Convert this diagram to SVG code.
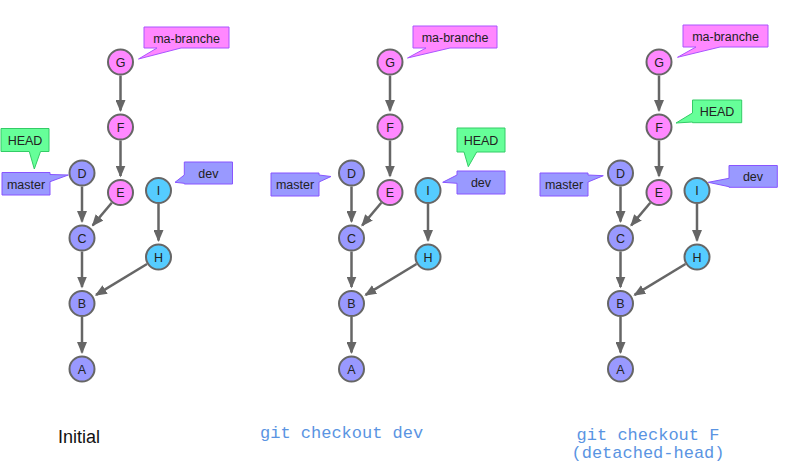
<svg xmlns="http://www.w3.org/2000/svg" width="786" height="470" viewBox="0 0 786 470">
<style>
.n circle{stroke:#666;stroke-width:2}
.blue circle{fill:#9999ff}
.pink circle{fill:#ff88ff}
.cyan circle{fill:#55ccff}
.n text{font-family:"Liberation Sans",Arial,sans-serif;font-size:12.5px;fill:#222;text-anchor:middle}
.e line{stroke:#666;stroke-width:2.5;marker-end:url(#arr)}
.c path{stroke-width:1}
.c text{font-family:"Liberation Sans",Arial,sans-serif;font-size:12.5px;fill:#222;text-anchor:middle}
.cg path{fill:#66ff99;stroke:#33cc66}
.cb path{fill:#9999ff;stroke:#8855ff}
.cp path{fill:#ff88ff;stroke:#aa55ff}
.cap{font-family:"Liberation Mono","Courier New",monospace;font-size:17px;fill:#5a94e2}
</style>
<defs>
<marker id="arr" markerUnits="userSpaceOnUse" markerWidth="12" markerHeight="10" viewBox="0 0 12 10" refX="10.5" refY="5" orient="auto">
<path d="M0,0 L12,5 L0,10 Z" fill="#666"/>
</marker>
</defs>

<g id="panel1">
<g id="p1-edges" class="e">
<line x1="120.5" y1="75.5" x2="120.5" y2="110.5"/>
<line x1="120.5" y1="140.5" x2="120.5" y2="176"/>
<line x1="82" y1="186.5" x2="82" y2="221.5"/>
<line x1="158.5" y1="204" x2="158.5" y2="240.5"/>
<line x1="82" y1="251.5" x2="82" y2="287"/>
<line x1="82" y1="317" x2="82" y2="352.5"/>
<line x1="111.8" y1="202.8" x2="92.7" y2="225.4"/>
<line x1="147" y1="264" x2="96.1" y2="294.9"/>
</g>
<g id="p1-A" class="n blue"><circle cx="82" cy="369" r="12.5"/><text x="82" y="373.5">A</text></g>
<g id="p1-B" class="n blue"><circle cx="82" cy="303.5" r="12.5"/><text x="82" y="308">B</text></g>
<g id="p1-C" class="n blue"><circle cx="82" cy="238" r="12.5"/><text x="82" y="242.5">C</text></g>
<g id="p1-D" class="n blue"><circle cx="82" cy="173" r="12.5"/><text x="82" y="177.5">D</text></g>
<g id="p1-E" class="n pink"><circle cx="120.5" cy="192.5" r="12.5"/><text x="120.5" y="197">E</text></g>
<g id="p1-F" class="n pink"><circle cx="120.5" cy="127" r="12.5"/><text x="120.5" y="131.5">F</text></g>
<g id="p1-G" class="n pink"><circle cx="120.5" cy="62" r="12.5"/><text x="120.5" y="66.5">G</text></g>
<g id="p1-H" class="n cyan"><circle cx="158.5" cy="257" r="12.5"/><text x="158.5" y="261.5">H</text></g>
<g id="p1-I" class="n cyan"><circle cx="158.5" cy="190.5" r="12.5"/><text x="158.5" y="195">I</text></g>
</g>

<g id="panel2" transform="translate(269.5,0)">
<g id="p2-edges" class="e">
<line x1="120.5" y1="75.5" x2="120.5" y2="110.5"/>
<line x1="120.5" y1="140.5" x2="120.5" y2="176"/>
<line x1="82" y1="186.5" x2="82" y2="221.5"/>
<line x1="158.5" y1="204" x2="158.5" y2="240.5"/>
<line x1="82" y1="251.5" x2="82" y2="287"/>
<line x1="82" y1="317" x2="82" y2="352.5"/>
<line x1="111.8" y1="202.8" x2="92.7" y2="225.4"/>
<line x1="147" y1="264" x2="96.1" y2="294.9"/>
</g>
<g id="p2-A" class="n blue"><circle cx="82" cy="369" r="12.5"/><text x="82" y="373.5">A</text></g>
<g id="p2-B" class="n blue"><circle cx="82" cy="303.5" r="12.5"/><text x="82" y="308">B</text></g>
<g id="p2-C" class="n blue"><circle cx="82" cy="238" r="12.5"/><text x="82" y="242.5">C</text></g>
<g id="p2-D" class="n blue"><circle cx="82" cy="173" r="12.5"/><text x="82" y="177.5">D</text></g>
<g id="p2-E" class="n pink"><circle cx="120.5" cy="192.5" r="12.5"/><text x="120.5" y="197">E</text></g>
<g id="p2-F" class="n pink"><circle cx="120.5" cy="127" r="12.5"/><text x="120.5" y="131.5">F</text></g>
<g id="p2-G" class="n pink"><circle cx="120.5" cy="62" r="12.5"/><text x="120.5" y="66.5">G</text></g>
<g id="p2-H" class="n cyan"><circle cx="158.5" cy="257" r="12.5"/><text x="158.5" y="261.5">H</text></g>
<g id="p2-I" class="n cyan"><circle cx="158.5" cy="190.5" r="12.5"/><text x="158.5" y="195">I</text></g>
</g>

<g id="panel3" transform="translate(538.5,0)">
<g id="p3-edges" class="e">
<line x1="120.5" y1="75.5" x2="120.5" y2="110.5"/>
<line x1="120.5" y1="140.5" x2="120.5" y2="176"/>
<line x1="82" y1="186.5" x2="82" y2="221.5"/>
<line x1="158.5" y1="204" x2="158.5" y2="240.5"/>
<line x1="82" y1="251.5" x2="82" y2="287"/>
<line x1="82" y1="317" x2="82" y2="352.5"/>
<line x1="111.8" y1="202.8" x2="92.7" y2="225.4"/>
<line x1="147" y1="264" x2="96.1" y2="294.9"/>
</g>
<g id="p3-A" class="n blue"><circle cx="82" cy="369" r="12.5"/><text x="82" y="373.5">A</text></g>
<g id="p3-B" class="n blue"><circle cx="82" cy="303.5" r="12.5"/><text x="82" y="308">B</text></g>
<g id="p3-C" class="n blue"><circle cx="82" cy="238" r="12.5"/><text x="82" y="242.5">C</text></g>
<g id="p3-D" class="n blue"><circle cx="82" cy="173" r="12.5"/><text x="82" y="177.5">D</text></g>
<g id="p3-E" class="n pink"><circle cx="120.5" cy="192.5" r="12.5"/><text x="120.5" y="197">E</text></g>
<g id="p3-F" class="n pink"><circle cx="120.5" cy="127" r="12.5"/><text x="120.5" y="131.5">F</text></g>
<g id="p3-G" class="n pink"><circle cx="120.5" cy="62" r="12.5"/><text x="120.5" y="66.5">G</text></g>
<g id="p3-H" class="n cyan"><circle cx="158.5" cy="257" r="12.5"/><text x="158.5" y="261.5">H</text></g>
<g id="p3-I" class="n cyan"><circle cx="158.5" cy="190.5" r="12.5"/><text x="158.5" y="195">I</text></g>
</g>

<g id="labels1">
<g id="p1-ma-branche" class="c cp"><path d="M144,27 H229 V48 H181 L138.5,59 L157,48 H144 Z"/><text x="186.5" y="42.5">ma-branche</text></g>
<g id="p1-HEAD" class="c cg"><path d="M1,128.5 H49 V151.5 H40.5 L34.3,169 L29.3,151.5 H1 Z"/><text x="25" y="144.5">HEAD</text></g>
<g id="p1-master" class="c cb"><path d="M2,172.5 H50 V174.5 L68.3,175 L50,181.7 V195 H2 Z"/><text x="26" y="188.5">master</text></g>
<g id="p1-dev" class="c cb"><path d="M184.3,162 H232.5 V184 H184.3 V183.3 L175,182.3 L184.3,175 Z"/><text x="208.4" y="177.5">dev</text></g>
</g>

<g id="labels2">
<g id="p2-ma-branche" class="c cp"><path d="M413,26 H497 V48 H450 L407.5,58 L426,48 H413 Z"/><text x="455" y="41.5">ma-branche</text></g>
<g id="p2-master" class="c cb"><path d="M271,173 H319 V175 L331,176.5 L319,182 V196 H271 Z"/><text x="295" y="189">master</text></g>
<g id="p2-HEAD" class="c cg"><path d="M457,128 H505 V152 H476.7 L468.3,166.7 L464,152 H457 Z"/><text x="481" y="144.5">HEAD</text></g>
<g id="p2-dev" class="c cb"><path d="M457,171 H505 V194 H457 V183.3 L442.7,182.3 L457,175 Z"/><text x="481" y="187">dev</text></g>
</g>

<g id="labels3">
<g id="p3-ma-branche" class="c cp"><path d="M683,25 H768 V47 H720 L677.5,57.3 L696,47 H683 Z"/><text x="725.5" y="40.5">ma-branche</text></g>
<g id="p3-HEAD" class="c cg"><path d="M692.5,100 H741.7 V122.7 H692.5 V122 L676,123 L692.5,113 Z"/><text x="717" y="116">HEAD</text></g>
<g id="p3-master" class="c cb"><path d="M540,173 H588 V175 L603.3,175.7 L588,182 V196 H540 Z"/><text x="564" y="189">master</text></g>
<g id="p3-dev" class="c cb"><path d="M729,165.5 H777.3 V187.3 H729 V186.7 L708.3,182.3 L729,178.3 Z"/><text x="753" y="181">dev</text></g>
</g>

<g id="captions">
<text x="58" y="443" style="font-family:'Liberation Sans',Arial,sans-serif;font-size:18px;fill:#111">Initial</text>
<text class="cap" x="260" y="438.3">git checkout dev</text>
<text class="cap" x="648" y="440" text-anchor="middle">git checkout F</text>
<text class="cap" x="648" y="457.5" text-anchor="middle">(detached-head)</text>
</g>
</svg>
